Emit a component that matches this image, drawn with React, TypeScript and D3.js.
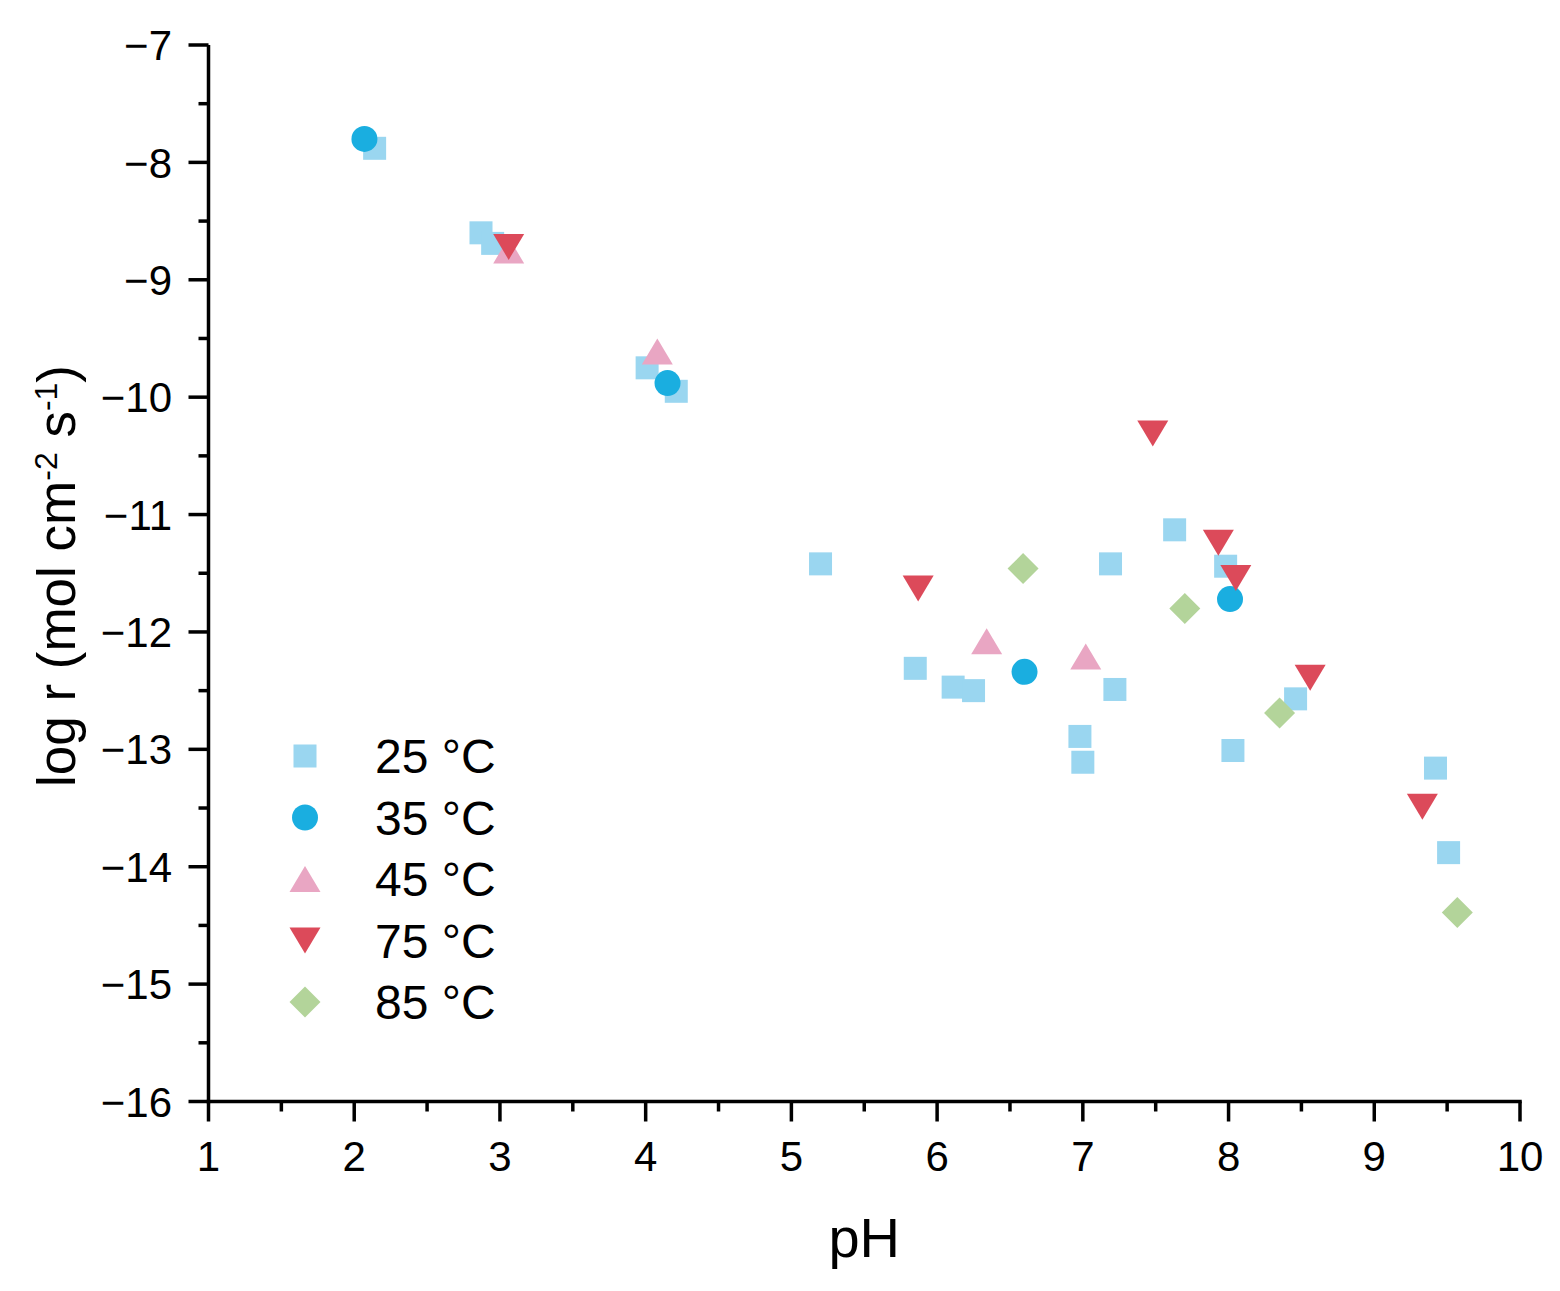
import React from "react";
import * as d3 from "d3";

// pH / log r values
const t25pH = [2.14, 2.87, 2.95, 4.01, 4.21, 5.2, 5.85, 6.11, 6.25, 6.98, 7.0, 7.19, 7.22, 7.63, 7.98, 8.03, 8.46, 9.42, 9.51];
const t25r = [-7.88, -8.6, -8.69, -9.75, -9.95, -11.42, -12.31, -12.47, -12.5, -12.89, -13.11, -11.42, -12.49, -11.13, -11.44, -13.01, -12.57, -13.16, -13.88];

const t35pH = [2.07, 4.15, 6.6, 8.01];
const t35r = [-7.8, -9.88, -12.34, -11.72];

const t45pH = [3.06, 4.08, 6.34, 7.02];
const t45r = [-8.75, -9.61, -12.08, -12.21];

const t75pH = [3.06, 5.87, 7.48, 7.93, 8.05, 8.56, 9.33];
const t75r = [-8.72, -11.63, -10.31, -11.24, -11.54, -12.39, -13.49];

const t85pH = [6.59, 7.7, 8.35, 9.57];
const t85r = [-11.46, -11.8, -12.69, -14.39];

const xTicks = [1, 2, 3, 4, 5, 6, 7, 8, 9, 10];
const yTicks = [-7, -8, -9, -10, -11, -12, -13, -14, -15, -16];
const seriesLabels = ["25 °C", "35 °C", "45 °C", "75 °C", "85 °C"];

type Shape = "square" | "circle" | "up" | "down" | "diamond";

const series: { pH: number[]; r: number[]; shape: Shape; color: string; label: string }[] = [
  { pH: t25pH, r: t25r, shape: "square", color: "#9AD6F0", label: seriesLabels[0] },
  { pH: t35pH, r: t35r, shape: "circle", color: "#1AAEE0", label: seriesLabels[1] },
  { pH: t45pH, r: t45r, shape: "up", color: "#E9A6C3", label: seriesLabels[2] },
  { pH: t75pH, r: t75r, shape: "down", color: "#DC4A5A", label: seriesLabels[3] },
  { pH: t85pH, r: t85r, shape: "diamond", color: "#B3D49A", label: seriesLabels[4] },
];

function Marker({ shape, x, y, color }: { shape: Shape; x: number; y: number; color: string }) {
  if (shape === "square") return <rect x={x - 11.5} y={y - 11.5} width={23} height={23} fill={color} />;
  if (shape === "circle") return <circle cx={x} cy={y} r={13} fill={color} />;
  if (shape === "up")
    return <path d={`M${x},${y - 13} L${x + 15.5},${y + 13} L${x - 15.5},${y + 13} Z`} fill={color} />;
  if (shape === "down")
    return <path d={`M${x},${y + 13} L${x + 15.5},${y - 13} L${x - 15.5},${y - 13} Z`} fill={color} />;
  return <path d={`M${x},${y - 15.5} L${x + 15.5},${y} L${x},${y + 15.5} L${x - 15.5},${y} Z`} fill={color} />;
}

export default function App() {
  const W = 1560, H = 1291;
  const left = 208.5, right = 1520, top = 45, bottom = 1101.5;
  const x = d3.scaleLinear().domain([1, 10]).range([left, right]);
  const y = d3.scaleLinear().domain([-7, -16]).range([top, bottom]);
  const xMinor = d3.range(1.5, 10, 1);
  const yMinor = d3.range(-7.5, -16, -1);
  const font = "Arial, 'Liberation Sans', sans-serif";
  const sw = 3.5;
  const fmt = (v: number) => (v < 0 ? "\u2212" + Math.abs(v) : String(v));

  return (
    <svg width={W} height={H} style={{ position: "absolute", left: 0, top: 0, background: "#fff" }} fontFamily={font}>
      <rect width={W} height={H} fill="#fff" />
      {/* data */}
      {series.map((s, si) => (
        <g key={si}>
          {s.pH.map((p, i) => (
            <Marker key={i} shape={s.shape} x={x(p)} y={y(s.r[i])} color={s.color} />
          ))}
        </g>
      ))}
      {/* axes */}
      <line x1={left} y1={top} x2={left} y2={bottom + sw / 2} stroke="#000" strokeWidth={sw} />
      <line x1={left - sw / 2} y1={bottom} x2={right + sw / 2} y2={bottom} stroke="#000" strokeWidth={sw} />
      {yTicks.map((t) => (
        <g key={"y" + t}>
          <line x1={left - 20} x2={left} y1={y(t)} y2={y(t)} stroke="#000" strokeWidth={sw} />
          <text x={172} y={y(t)} dy="0.36em" textAnchor="end" fontSize={42}>
            {fmt(t)}
          </text>
        </g>
      ))}
      {yMinor.map((t) => (
        <line key={"ym" + t} x1={left - 10} x2={left} y1={y(t)} y2={y(t)} stroke="#000" strokeWidth={sw} />
      ))}
      {xTicks.map((t) => (
        <g key={"x" + t}>
          <line x1={x(t)} x2={x(t)} y1={bottom} y2={bottom + 20} stroke="#000" strokeWidth={sw} />
          <text x={x(t)} y={1171} textAnchor="middle" fontSize={42}>
            {t}
          </text>
        </g>
      ))}
      {xMinor.map((t) => (
        <line key={"xm" + t} x1={x(t)} x2={x(t)} y1={bottom} y2={bottom + 10} stroke="#000" strokeWidth={sw} />
      ))}
      {/* axis titles */}
      <text x={(left + right) / 2} y={1257} textAnchor="middle" fontSize={56}>
        pH
      </text>
      <text transform={`translate(75, 576) rotate(-90)`} textAnchor="middle" fontSize={53}>
        log r (mol cm
        <tspan baselineShift="super" fontSize={32}>-2</tspan>
        <tspan> s</tspan>
        <tspan baselineShift="super" fontSize={32}>-1</tspan>
        <tspan>)</tspan>
      </text>
      {/* legend */}
      {series.map((s, i) => {
        const ly = 756 + i * 61.5;
        return (
          <g key={"l" + i}>
            <Marker shape={s.shape} x={305} y={ly} color={s.color} />
            <text x={375} y={ly} dy="0.36em" fontSize={48}>
              {s.label}
            </text>
          </g>
        );
      })}
    </svg>
  );
}
